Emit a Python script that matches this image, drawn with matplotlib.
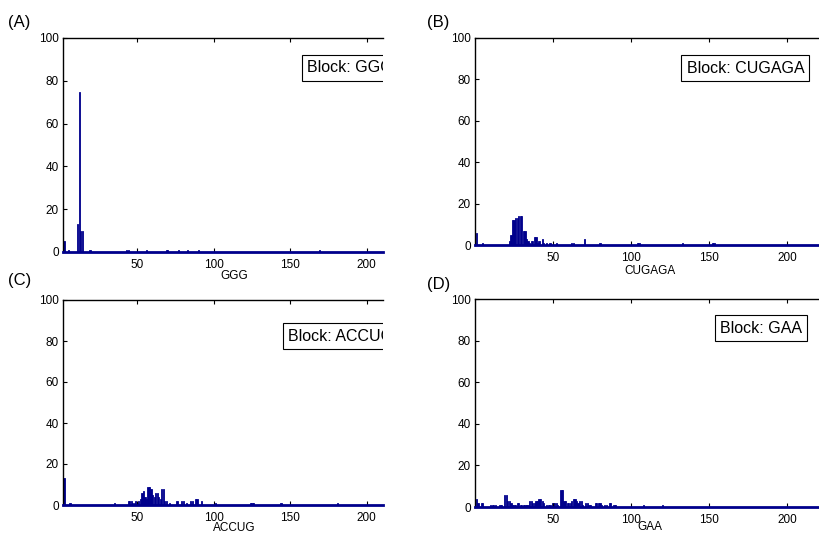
import matplotlib
matplotlib.use('Agg')
import matplotlib.pyplot as plt

plt.rcParams['font.family'] = ['Liberation Sans', 'DejaVu Sans']

# (A) block GGG
ggg_pos = [2, 5, 11, 12, 13, 14, 19, 43, 44, 56, 69, 70, 77, 83, 90, 169]
ggg_cnt = [5, 1, 13, 75, 10, 10, 1, 1, 1, 1, 1, 1, 1, 1, 1, 1]

# (B) block CUGAGA
cugaga_pos = [1, 5, 22, 23, 24, 25, 26, 27, 28, 29, 30, 31, 32, 33, 34, 35, 36, 37,
              38, 39, 40, 41, 43, 44, 46, 48, 52, 62, 63, 70, 80, 104, 105, 133, 152, 153]
cugaga_cnt = [6, 1, 2, 5, 12, 12, 13, 13, 14, 14, 14, 7, 7, 3, 2, 1, 2, 2,
              4, 4, 1, 2, 3, 1, 1, 1, 1, 1, 1, 3, 1, 1, 1, 1, 1, 1]

# (C) block ACCUG
accug_pos = [2, 6, 35, 44, 45, 46, 47, 48, 49, 50, 51, 52, 53, 54, 55, 56, 57, 58, 59, 60,
             61, 62, 63, 64, 65, 66, 67, 68, 69, 71, 76, 79, 80, 82, 85, 86, 88, 89, 92,
             101, 124, 125, 126, 144, 181]
accug_cnt = [13, 1, 1, 2, 2, 2, 1, 1, 2, 1, 2, 3, 6, 7, 4, 3, 9, 9, 8, 5,
             4, 6, 6, 4, 3, 8, 8, 2, 2, 1, 2, 2, 2, 1, 2, 2, 3, 3, 2,
             1, 1, 1, 1, 1, 1]

# (D) block GAA
gaa_pos = [1, 2, 4, 5, 10, 11, 12, 13, 16, 17, 19, 20, 21, 22, 23, 24, 25, 26, 27, 28,
           29, 30, 31, 32, 33, 34, 35, 36, 37, 38, 39, 40, 41, 42, 43, 44, 46, 47, 48,
           50, 51, 52, 53, 55, 56, 57, 58, 59, 60, 61, 62, 63, 64, 65, 66, 67, 68, 69,
           71, 72, 73, 74, 77, 78, 79, 80, 81, 83, 84, 86, 87, 89, 90, 108, 120]
gaa_cnt = [4, 2, 2, 2, 1, 1, 1, 1, 1, 1, 6, 6, 3, 3, 2, 1, 1, 1, 2, 2,
           1, 1, 1, 1, 1, 1, 3, 3, 2, 2, 3, 3, 4, 4, 3, 2, 1, 1, 1,
           2, 2, 2, 1, 8, 8, 3, 3, 2, 2, 2, 3, 4, 4, 3, 2, 3, 3, 1,
           2, 2, 1, 1, 2, 2, 2, 2, 1, 1, 1, 2, 2, 1, 1, 1, 1]

yticks = [0, 20, 40, 60, 80, 100]
xticks = [50, 100, 150, 200]
bar_color = '#00008c'

W, H = 819, 533
fig = plt.figure(figsize=(W / 100, H / 100), dpi=100)


def px_axes(l, t, r, b):
    return fig.add_axes([l / W, 1 - b / H, (r - l) / W, (b - t) / H])


panels = [
    # label, pos, cnt, name, box (l, t, r, b), xlim, text xy, label xy, panel label xy
    ('(A)', ggg_pos, ggg_cnt, 'GGG', (63, 38, 383, 252), (1.4, 210.7), (1.031, 0.86), (0.534, -0.084), (8, 22)),
    ('(B)', cugaga_pos, cugaga_cnt, 'CUGAGA', (475, 38, 819, 245), (0, 220.3), (0.957, 0.855), (0.509, -0.097), (427, 22)),
    ('(C)', accug_pos, accug_cnt, 'ACCUG', (63, 300, 383, 505), (1.4, 210.7), (1.031, 0.824), (0.534, -0.083), (8, 281)),
    ('(D)', gaa_pos, gaa_cnt, 'GAA', (475, 299, 819, 507), (0, 220.3), (0.95, 0.86), (0.509, -0.068), (427, 285)),
]

for plabel, pos, cnt, name, box, xlim, txy, lxy, pxy in panels:
    ax = px_axes(*box)
    ax.bar(pos, cnt, width=0.8, color=bar_color, edgecolor=bar_color, linewidth=0.6)
    ax.axhline(0, color=bar_color, lw=2, clip_on=False, zorder=3)
    ax.set_xlim(*xlim)
    ax.set_ylim(0, 100)
    ax.set_xticks(xticks)
    ax.set_yticks(yticks)
    ax.tick_params(direction='in', length=3, width=0.8, labelsize=8.5,
                   top=True, bottom=True, left=True, right=False, pad=3)
    ax.tick_params(axis='x', pad=5)
    for s in ['right', 'bottom']:
        ax.spines[s].set_visible(False)
    for s in ['left', 'top']:
        ax.spines[s].set_linewidth(1.0)
    ax.set_xlabel(name, fontsize=8.5)
    ax.xaxis.set_label_coords(*lxy)
    ax.text(txy[0], txy[1], 'Block: ' + name, transform=ax.transAxes,
            ha='right', va='center', fontsize=11.5, clip_on=True,
            bbox=dict(boxstyle='square,pad=0.33', fc='white', ec='black', lw=0.8))
    fig.text(pxy[0] / W, 1 - pxy[1] / H, plabel, fontsize=12, ha='left', va='center')

fig.savefig('out.png', dpi=100)
